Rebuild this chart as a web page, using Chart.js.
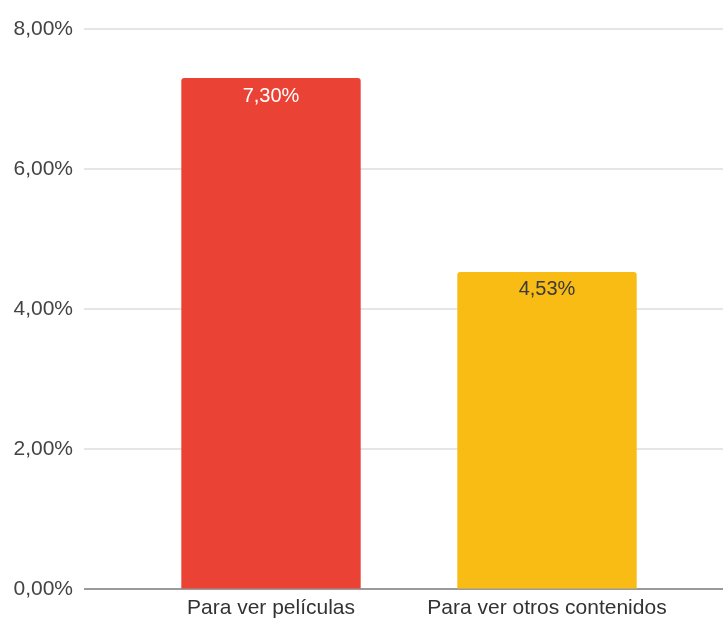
<!DOCTYPE html>
<html>
<head>
<meta charset="utf-8">
<script src="https://cdn.jsdelivr.net/npm/chart.js@4.4.1/dist/chart.umd.min.js"></script>
<style>
  html, body { margin: 0; padding: 0; background: #fff; }
  #wrap { width: 723px; height: 621px; }
</style>
</head>
<body>
<div id="wrap"><canvas id="c" width="723" height="621"></canvas></div>
<script>
const categories = ['Para ver películas', 'Para ver otros contenidos'];
const values = [7.30, 4.53];
const barColors = ['#EA4335', '#F9BC15'];
const labelColors = ['#ffffff', '#3a3a3a'];
const yTicks = [0, 2, 4, 6, 8];

const fmt = v => v.toFixed(2).replace('.', ',') + '%';
const FONT = 'Arial, "Liberation Sans", sans-serif';

// horizontal grid lines spanning the full width, zero line darker
const gridPlugin = {
  id: 'wideGrid',
  beforeDatasetsDraw(chart) {
    const { ctx, scales: { y } } = chart;
    ctx.save();
    yTicks.forEach(t => {
      const py = Math.round(y.getPixelForValue(t));
      if (t === 0) {
        ctx.strokeStyle = '#9a9a9a';
        ctx.lineWidth = 2;
      } else {
        ctx.strokeStyle = '#e6e6e6';
        ctx.lineWidth = 2;
      }
      ctx.beginPath();
      ctx.moveTo(84, py);
      ctx.lineTo(chart.width, py);
      ctx.stroke();
    });
    ctx.restore();
  }
};

// value labels inside the top of each bar
const valueLabels = {
  id: 'valueLabels',
  afterDatasetsDraw(chart) {
    const { ctx } = chart;
    const meta = chart.getDatasetMeta(0);
    ctx.save();
    ctx.font = '20px ' + FONT;
    ctx.textAlign = 'center';
    ctx.textBaseline = 'middle';
    meta.data.forEach((bar, i) => {
      ctx.fillStyle = labelColors[i];
      ctx.fillText(fmt(values[i]), bar.x, bar.y + 18);
    });
    ctx.restore();
  }
};

new Chart(document.getElementById('c'), {
  type: 'bar',
  data: {
    labels: categories,
    datasets: [{
      data: values,
      backgroundColor: barColors,
      borderRadius: { topLeft: 3, topRight: 3, bottomLeft: 0, bottomRight: 0 },
      borderSkipped: 'bottom',
      barPercentage: 0.65,
      categoryPercentage: 1.0
    }]
  },
  options: {
    responsive: false,
    animation: false,
    events: [],
    layout: { padding: { top: 29, right: 38, bottom: 0, left: 0 } },
    plugins: { legend: { display: false }, tooltip: { enabled: false } },
    scales: {
      x: {
        afterFit(s) { s.height = 32; },
        grid: { display: false, drawTicks: false },
        border: { display: false },
        ticks: { color: '#333', font: { family: FONT, size: 21 }, padding: 7, maxRotation: 0 }
      },
      y: {
        min: 0, max: 8,
        afterFit(s) { s.width = 133; },
        afterBuildTicks(s) { s.ticks = yTicks.map(v => ({ value: v })); },
        grid: { display: true, drawOnChartArea: false, drawTicks: true, tickLength: 48, color: 'rgba(0,0,0,0)' },
        border: { display: false },
        ticks: {
          color: '#444',
          font: { family: FONT, size: 21 },
          padding: 12,
          callback: v => fmt(v)
        }
      }
    }
  },
  plugins: [gridPlugin, valueLabels]
});
</script>
</body>
</html>
